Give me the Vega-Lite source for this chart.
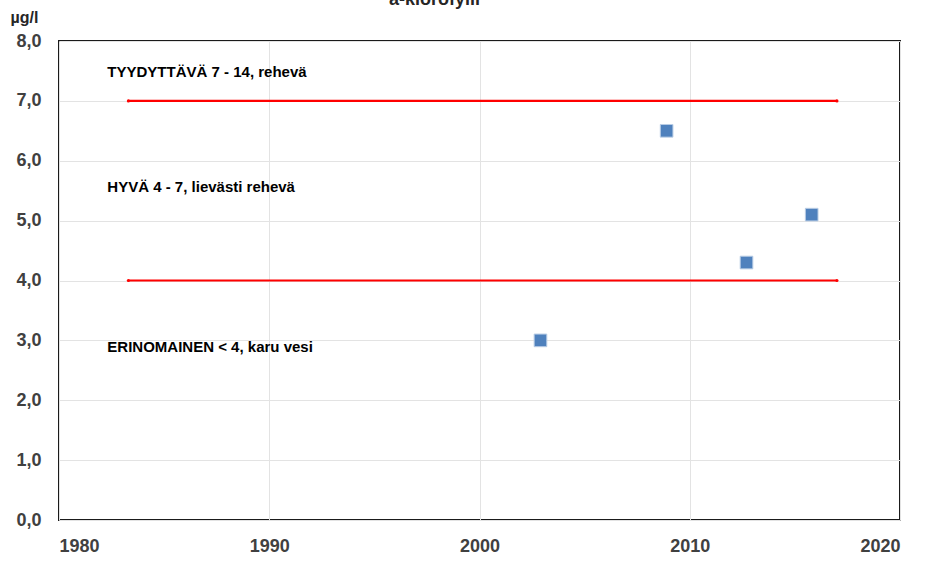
{
  "$schema": "https://vega.github.io/schema/vega-lite/v6.json",
  "width": 841,
  "height": 479,
  "autosize": {"type": "none"},
  "padding": {"left": 59, "top": 41, "right": 25, "bottom": 42},
  "background": "white",
  "title": {"text": "a-klorofylli", "font": "Liberation Sans", "fontSize": 18, "fontWeight": "bold", "color": "#262626", "anchor": "middle", "dx": -45, "offset": 0},
  "config": {
    "view": {"stroke": "#1a1a1a", "strokeWidth": 2},
    "font": "Liberation Sans"
  },
  "datasets": {
    "points": [
      {"year": 2002.9, "value": 3.0},
      {"year": 2008.9, "value": 6.5},
      {"year": 2012.7, "value": 4.3},
      {"year": 2015.8, "value": 5.1}
    ],
    "limits": [
      {"line": "7", "year": 1983.3, "value": 7},
      {"line": "7", "year": 2017.0, "value": 7},
      {"line": "4", "year": 1983.3, "value": 4},
      {"line": "4", "year": 2017.0, "value": 4}
    ],
    "labels": [
      {"year": 1982.3, "value": 7.48, "label": "TYYDYTTÄVÄ 7 - 14, rehevä"},
      {"year": 1982.3, "value": 5.56, "label": "HYVÄ 4 - 7, lievästi rehevä"},
      {"year": 1982.3, "value": 2.89, "label": "ERINOMAINEN < 4, karu vesi"}
    ]
  },
  "layer": [
    {
      "data": {"name": "limits"},
      "mark": {"type": "line", "color": "#ff0000", "strokeWidth": 2.2, "point": {"filled": true, "color": "#ff0000", "size": 10}},
      "encoding": {
        "x": {"field": "year", "type": "quantitative", "scale": {"domain": [1980, 2020], "nice": false, "zero": false},
          "axis": {"values": [1980, 1990, 2000, 2010, 2020], "format": "d", "title": null, "ticks": false, "domain": false,
            "labelFont": "Liberation Sans", "labelFontSize": 18, "labelFontWeight": "bold", "labelColor": "#404040", "labelPadding": 17,
            "gridColor": "#e3e3e3", "gridWidth": 1}},
        "y": {"field": "value", "type": "quantitative", "scale": {"domain": [0, 8], "nice": false},
          "axis": {"values": [0, 1, 2, 3, 4, 5, 6, 7, 8], "labelExpr": "replace(format(datum.value, '.1f'), '.', ',')",
            "title": "µg/l", "titleAngle": 0, "titleX": -49, "titleY": -16, "titleAlign": "left", "titleBaseline": "bottom",
            "titleFont": "Liberation Sans", "titleFontSize": 16, "titleFontWeight": "bold", "titleColor": "#262626",
            "ticks": false, "domain": false,
            "labelFont": "Liberation Sans", "labelFontSize": 18, "labelFontWeight": "bold", "labelColor": "#404040", "labelPadding": 18,
            "gridColor": "#e3e3e3", "gridWidth": 1}},
        "detail": {"field": "line"}
      }
    },
    {
      "data": {"name": "points"},
      "mark": {"type": "point", "shape": "square", "filled": true, "size": 160, "color": "#4f81bd", "stroke": "#b9cde5", "strokeWidth": 1, "opacity": 1},
      "encoding": {
        "x": {"field": "year", "type": "quantitative"},
        "y": {"field": "value", "type": "quantitative"}
      }
    },
    {
      "data": {"name": "labels"},
      "mark": {"type": "text", "align": "left", "baseline": "middle", "font": "Liberation Sans", "fontSize": 15, "fontWeight": "bold", "color": "#000000"},
      "encoding": {
        "x": {"field": "year", "type": "quantitative"},
        "y": {"field": "value", "type": "quantitative"},
        "text": {"field": "label"}
      }
    }
  ]
}
